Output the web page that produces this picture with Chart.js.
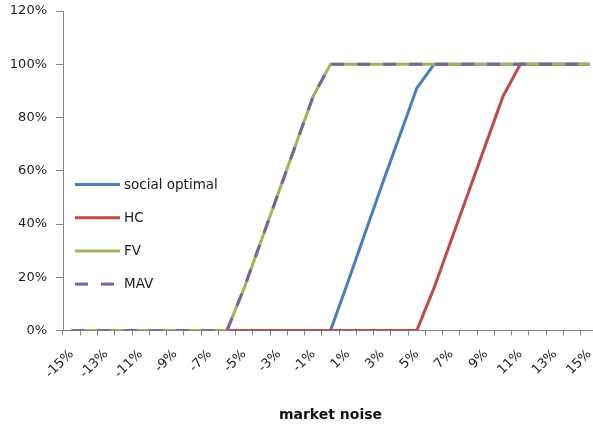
<!DOCTYPE html>
<html>
<head>
<meta charset="utf-8">
<script src="https://cdn.jsdelivr.net/npm/chart.js@4/dist/chart.umd.min.js"></script>
<style>
  html, body { margin: 0; padding: 0; background: #fff; overflow: hidden; }
  #wrap { width: 600px; height: 428px; }
</style>
</head>
<body>
<div id="wrap"><canvas id="noiseChart" width="600" height="428"></canvas></div>
<script>
// market noise categories (-15% .. 15%)
const noiseLabels = ["-15%", "-14%", "-13%", "-12%", "-11%", "-10%", "-9%", "-8%", "-7%", "-6%",
  "-5%", "-4%", "-3%", "-2%", "-1%", "0%", "1%", "2%", "3%", "4%", "5%",
  "6%", "7%", "8%", "9%", "10%", "11%", "12%", "13%", "14%", "15%"];

const socialOptimal = [0, 0, 0, 0, 0, 0, 0, 0, 0, 0, 0, 0, 0, 0, 0, 0,
  18, 36.5, 55, 73, 91, 100, 100, 100, 100, 100, 100, 100, 100, 100, 100];
const hcValues = [0, 0, 0, 0, 0, 0, 0, 0, 0, 0, 0, 0, 0, 0, 0, 0, 0, 0, 0, 0, 0,
  16, 34, 52, 70, 88, 100, 100, 100, 100, 100];
const fvValues = [0, 0, 0, 0, 0, 0, 0, 0, 0, 0,
  16, 34, 52, 70, 88, 100, 100, 100, 100, 100, 100, 100, 100, 100, 100, 100, 100, 100, 100, 100, 100];
const mavValues = [0, 0, 0, 0, 0, 0, 0, 0, 0, 0,
  16, 34, 52, 70, 88, 100, 100, 100, 100, 100, 100, 100, 100, 100, 100, 100, 100, 100, 100, 100, 100];

const yTicks = [0, 20, 40, 60, 80, 100, 120];

const FONT = "'DejaVu Sans', sans-serif";
const AXIS_GRAY = "#868686";
const TEXT = "#1a1a1a";

// legend drawn inside the plot, on the left
const insideLegend = {
  id: "insideLegend",
  afterDraw(chart) {
    const ctx = chart.ctx;
    ctx.save();
    chart.data.datasets.forEach((ds, i) => {
      const y = 184.5 + i * 33.2;
      ctx.beginPath();
      ctx.lineWidth = 3;
      ctx.strokeStyle = ds.borderColor;
      ctx.setLineDash(ds.borderDash || []);
      ctx.moveTo(75, y);
      ctx.lineTo(120, y);
      ctx.stroke();
      ctx.setLineDash([]);
      ctx.fillStyle = TEXT;
      ctx.font = "13.5px " + FONT;
      ctx.textBaseline = "middle";
      ctx.fillText(ds.label, 124, y + 0.5);
    });
    ctx.restore();
  },
};

const ctx = document.getElementById("noiseChart").getContext("2d");
const noiseChart = new Chart(ctx, {
  type: "line",
  data: {
    labels: noiseLabels,
    datasets: [
      { label: "social optimal", data: socialOptimal, borderColor: "#4a7ebb", order: 4 },
      { label: "HC", data: hcValues, borderColor: "#be4b48", order: 3 },
      { label: "FV", data: fvValues, borderColor: "#98b954", order: 2 },
      { label: "MAV", data: mavValues, borderColor: "#7d60a0", borderDash: [13, 13], order: 1 },
    ],
  },
  options: {
    responsive: false,
    animation: false,
    events: [],
    elements: {
      line: { borderWidth: 3, tension: 0, fill: false },
      point: { radius: 0 },
    },
    layout: { padding: { top: 11, right: 2, left: 0, bottom: 0 } },
    plugins: {
      legend: { display: false },
      tooltip: { enabled: false },
    },
    scales: {
      x: {
        offset: true,
        grid: { offset: true, drawOnChartArea: false, drawTicks: true, tickLength: 5, color: AXIS_GRAY },
        border: { color: AXIS_GRAY },
        ticks: {
          autoSkip: false,
          maxRotation: 45,
          minRotation: 45,
          padding: 11,
          color: TEXT,
          font: { family: FONT, size: 13 },
          callback: function (val, idx) {
            return idx % 2 === 0 ? noiseLabels[idx] : "";
          },
        },
        title: {
          display: true,
          text: "market noise",
          color: "#111",
          font: { family: FONT, size: 14, weight: "bold" },
          padding: { bottom: 4 },
        },
        afterFit: function (scale) {
          scale.height = 97.5;
          scale.paddingLeft = 0;
          scale.paddingRight = 0;
        },
      },
      y: {
        min: 0,
        max: 120,
        grid: { drawOnChartArea: false, drawTicks: true, tickLength: 7, color: AXIS_GRAY },
        border: { color: AXIS_GRAY },
        ticks: {
          stepSize: 20,
          padding: 9,
          color: TEXT,
          font: { family: FONT, size: 13 },
          callback: function (v) {
            return yTicks.includes(v) ? v + "%" : "";
          },
        },
        afterFit: function (scale) {
          scale.width = 63;
          scale.paddingTop = 0;
          scale.paddingBottom = 0;
        },
      },
    },
  },
  plugins: [insideLegend],
});
</script>
</body>
</html>
